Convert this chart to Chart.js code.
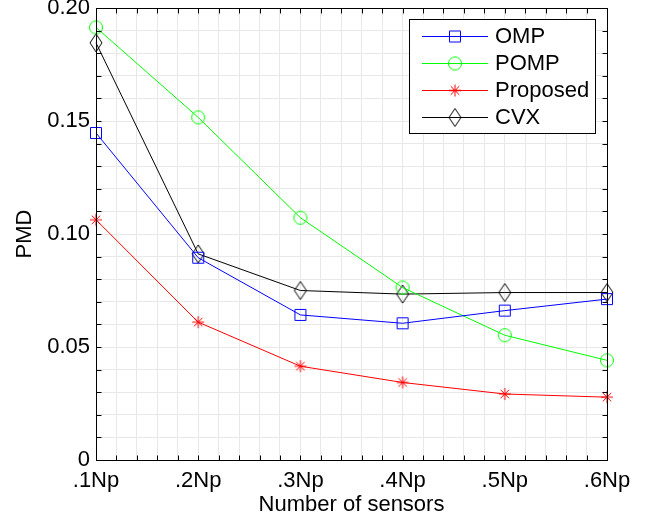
<!DOCTYPE html>
<html>
<head>
<meta charset="utf-8">
<script src="https://cdn.jsdelivr.net/npm/chart.js@4"></script>
<style>
  html, body { margin: 0; padding: 0; background: #fff; }
</style>
</head>
<body>
<canvas id="graficoPmd" width="650" height="523"></canvas>
<script>
  const sensorLabels = ['.1Np', '.2Np', '.3Np', '.4Np', '.5Np', '.6Np'];
  const ompValues = [0.1447, 0.0895, 0.0642, 0.0605, 0.0661, 0.0712];
  const pompValues = [0.1914, 0.1516, 0.1072, 0.0763, 0.0552, 0.0441];
  const proposedValues = [0.1063, 0.0610, 0.0415, 0.0343, 0.0292, 0.0278];
  const cvxValues = [0.1846, 0.0912, 0.0750, 0.0734, 0.0741, 0.0741];
  const yTickLabels = ['0', '0.05', '0.10', '0.15', '0.20'];

  // little canvases used as point markers (matlab-like shapes)
  function makeMarker(kind, color) {
    const c = document.createElement('canvas');
    if (kind === 'square') { c.width = 14; c.height = 14; }
    else if (kind === 'circle') { c.width = 16; c.height = 16; }
    else if (kind === 'diamond') { c.width = 14; c.height = 20; }
    else { c.width = 14; c.height = 14; }
    const g = c.getContext('2d');
    g.strokeStyle = color;
    g.lineWidth = 1;
    g.beginPath();
    if (kind === 'square') {
      g.rect(1.5, 1.5, 11, 11);
    } else if (kind === 'circle') {
      g.arc(8, 8, 6.5, 0, Math.PI * 2);
    } else if (kind === 'diamond') {
      g.moveTo(7, 1); g.lineTo(13, 10); g.lineTo(7, 19); g.lineTo(1, 10); g.closePath();
    } else {
      for (let k = 0; k < 4; k++) {
        const a = k * Math.PI / 4;
        g.moveTo(7 - Math.cos(a) * 6, 7 - Math.sin(a) * 6);
        g.lineTo(7 + Math.cos(a) * 6, 7 + Math.sin(a) * 6);
      }
    }
    g.stroke();
    return c;
  }

  function toPoints(values) {
    return values.map((v, i) => ({ x: i + 1, y: v }));
  }

  function serie(label, values, color, marker) {
    return {
      label: label,
      data: toPoints(values),
      borderColor: color,
      backgroundColor: color,
      borderWidth: 1,
      pointStyle: makeMarker(marker, color),
      pointRadius: 7,
      tension: 0,
      clip: false
    };
  }

  const framePlugin = {
    id: 'frame',
    afterDraw(chart) {
      const { ctx, chartArea: a, scales: { x, y } } = chart;
      const L = Math.round(a.left) + 0.5, R = Math.round(a.right) + 0.5;
      const T = Math.round(a.top) + 0.5, B = Math.round(a.bottom) + 0.5;
      ctx.save();
      ctx.strokeStyle = '#000';
      ctx.lineWidth = 1;
      ctx.beginPath();
      x.ticks.forEach(t => {
        const px = Math.round(x.getPixelForValue(t.value)) + 0.5;
        ctx.moveTo(px, B); ctx.lineTo(px, B - 5);
        ctx.moveTo(px, T); ctx.lineTo(px, T + 5);
      });
      y.ticks.forEach(t => {
        const py = Math.round(y.getPixelForValue(t.value)) + 0.5;
        ctx.moveTo(L, py); ctx.lineTo(L + 5, py);
        ctx.moveTo(R, py); ctx.lineTo(R - 5, py);
      });
      ctx.stroke();
      ctx.strokeRect(L, T, R - L, B - T);

      // legend box inside the plot
      const bx = 409.5, by = 19.5, bw = 186, bh = 114;
      ctx.fillStyle = '#fff';
      ctx.fillRect(bx, by, bw, bh);
      ctx.strokeRect(bx, by, bw, bh);
      ctx.font = '22px "Liberation Sans", Arial, sans-serif';
      ctx.textBaseline = 'middle';
      ctx.textAlign = 'left';
      const rows = [36, 63, 90, 117];
      chart.data.datasets.forEach((ds, i) => {
        const yy = rows[i] + 0.5;
        ctx.strokeStyle = ds.borderColor;
        ctx.beginPath();
        ctx.moveTo(422, yy); ctx.lineTo(488, yy);
        ctx.stroke();
        const img = ds.pointStyle;
        ctx.drawImage(img, 455 - img.width / 2, rows[i] - img.height / 2 + 0.5);
        ctx.fillStyle = '#000';
        ctx.fillText(ds.label, 495, rows[i] + 1);
      });
      ctx.restore();
    }
  };

  Chart.defaults.font.family = '"Liberation Sans", Arial, sans-serif';
  Chart.defaults.font.size = 22;
  Chart.defaults.color = '#000';

  const ctx = document.getElementById('graficoPmd').getContext('2d');
  const graficoPmd = new Chart(ctx, {
    type: 'line',
    data: {
      datasets: [
        serie('OMP', ompValues, '#0000ff', 'square'),
        serie('POMP', pompValues, '#00ff00', 'circle'),
        serie('Proposed', proposedValues, '#ff0000', 'star'),
        serie('CVX', cvxValues, '#000000', 'diamond')
      ]
    },
    options: {
      responsive: false,
      animation: false,
      layout: { padding: { top: 8, right: 43, bottom: 0, left: 0 } },
      plugins: {
        legend: { display: false },
        tooltip: { enabled: false }
      },
      scales: {
        x: {
          type: 'linear',
          min: 1,
          max: 6,
          afterFit: s => { s.height = 63; s.paddingLeft = 0; s.paddingRight = 0; },
          grid: { color: '#e8e8e8', drawTicks: false },
          border: { color: '#000' },
          ticks: {
            stepSize: 0.2,
            autoSkip: false,
            maxRotation: 0,
            minRotation: 0,
            padding: 8,
            callback: v => {
              const i = Math.round(v);
              return Math.abs(v - i) < 1e-6 ? sensorLabels[i - 1] : '';
            }
          },
          title: {
            display: true,
            text: 'Number of sensors',
            padding: { top: 0, bottom: 5 }
          }
        },
        y: {
          min: 0,
          max: 0.2,
          afterFit: s => { s.width = 96; s.paddingTop = 0; s.paddingBottom = 0; },
          grid: { color: '#e8e8e8', drawTicks: false },
          border: { color: '#000' },
          ticks: {
            stepSize: 0.01,
            autoSkip: false,
            padding: 6,
            callback: v => {
              const i = Math.round(v / 0.05);
              return Math.abs(v - i * 0.05) < 1e-9 ? yTickLabels[i] : '';
            }
          },
          title: {
            display: true,
            text: 'PMD',
            padding: { top: 12, bottom: 0 }
          }
        }
      }
    },
    plugins: [framePlugin]
  });
</script>
</body>
</html>
